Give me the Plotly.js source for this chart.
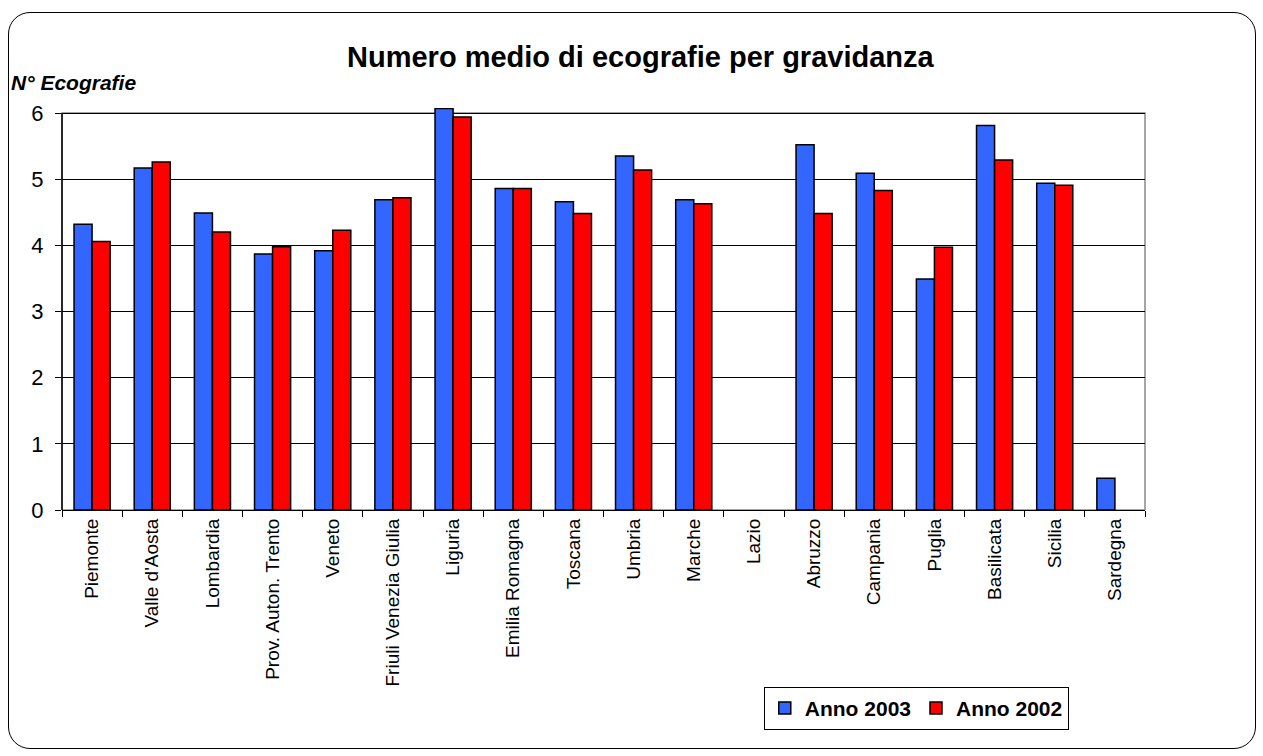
<!DOCTYPE html>
<html>
<head>
<meta charset="utf-8">
<script src="https://cdn.plot.ly/plotly-3.0.1.min.js"></script>
<style>
  html, body { margin: 0; padding: 0; background: #ffffff; }
  #wrap { position: relative; width: 1263px; height: 756px; }
  #chart { width: 1263px; height: 756px; }
  #frame { position: absolute; left: 8px; top: 12px; width: 1246px; height: 735px;
           border: 1px solid #000; border-radius: 22px; pointer-events: none; }
</style>
</head>
<body>
<div id="wrap">
  <div id="chart"></div>
  <div id="frame"></div>
</div>
<script>
const regions = ["Piemonte", "Valle d'Aosta", "Lombardia", "Prov. Auton. Trento", "Veneto",
  "Friuli Venezia Giulia", "Liguria", "Emilia Romagna", "Toscana", "Umbria", "Marche",
  "Lazio", "Abruzzo", "Campania", "Puglia", "Basilicata", "Sicilia", "Sardegna"];
const anno2003 = [4.32, 5.17, 4.49, 3.87, 3.92, 4.69, 6.07, 4.86, 4.66, 5.35, 4.69,
  null, 5.52, 5.09, 3.49, 5.81, 4.94, 0.48];
const anno2002 = [4.06, 5.26, 4.20, 3.98, 4.23, 4.72, 5.94, 4.86, 4.48, 5.14, 4.63,
  null, 4.48, 4.83, 3.97, 5.29, 4.91, null];
const yTicks = [0, 1, 2, 3, 4, 5, 6];
const yMax = 6;

const FONT = "Liberation Sans, Arial, sans-serif";

const traces = [
  { type: "bar", name: "Anno 2003", x: regions, y: anno2003,
    marker: { color: "#3366FF", line: { color: "#000000", width: 1.5 } } },
  { type: "bar", name: "Anno 2002", x: regions, y: anno2002,
    marker: { color: "#FF0000", line: { color: "#000000", width: 1.5 } } }
];

const layout = {
  width: 1263, height: 756,
  paper_bgcolor: "#ffffff", plot_bgcolor: "#ffffff",
  margin: { l: 62, r: 118, t: 108, b: 246 },
  font: { family: FONT, color: "#000000" },
  title: { text: "Numero medio di ecografie per gravidanza",
           font: { family: FONT, size: 29, weight: "bold", color: "#000" },
           x: 0.507, xanchor: "center", y: 0.925, yanchor: "middle" },
  barmode: "group", bargap: 0.4, bargroupgap: 0,
  showlegend: true,
  legend: { orientation: "h", x: 0.648, xanchor: "left", y: -0.44, yanchor: "top",
            bgcolor: "#ffffff", bordercolor: "#000000", borderwidth: 1,
            font: { family: FONT, size: 21, weight: "bold", color: "#000" },
            traceorder: "normal", itemwidth: 30 },
  xaxis: { type: "category", tickangle: -90, ticks: "outside", tickson: "boundaries",
           ticklen: 6, tickcolor: "#000", showline: true, linecolor: "#000", linewidth: 1,
           tickfont: { family: FONT, size: 19, color: "#000" }, showgrid: false,
           automargin: false },
  yaxis: { range: [0, yMax + 0.076], tickvals: yTicks, ticks: "outside", ticklen: 6,
           tickcolor: "#000", showline: false, showgrid: true, ticklabelstandoff: 7,
           gridcolor: "#000000", gridwidth: 1, zeroline: false,
           tickfont: { family: FONT, size: 22, color: "#000" }, automargin: false },
  shapes: [
    { type: "rect", xref: "paper", yref: "y", x0: 0, x1: 1, y0: 0, y1: yMax,
      line: { color: "#888888", width: 1.5 }, layer: "below" },
    { type: "line", xref: "paper", yref: "y", x0: 0, x1: 0, y0: 0, y1: yMax,
      line: { color: "#000000", width: 1.5 }, layer: "below" }
  ],
  annotations: [
    { text: "<b><i>N° Ecografie</i></b>", xref: "paper", yref: "paper",
      x: -0.049, xanchor: "left", y: 1.03, yanchor: "bottom", showarrow: false,
      font: { family: FONT, size: 21, color: "#000" } }
  ]
};

Plotly.newPlot("chart", traces, layout, { displayModeBar: false, staticPlot: true });
</script>
</body>
</html>
